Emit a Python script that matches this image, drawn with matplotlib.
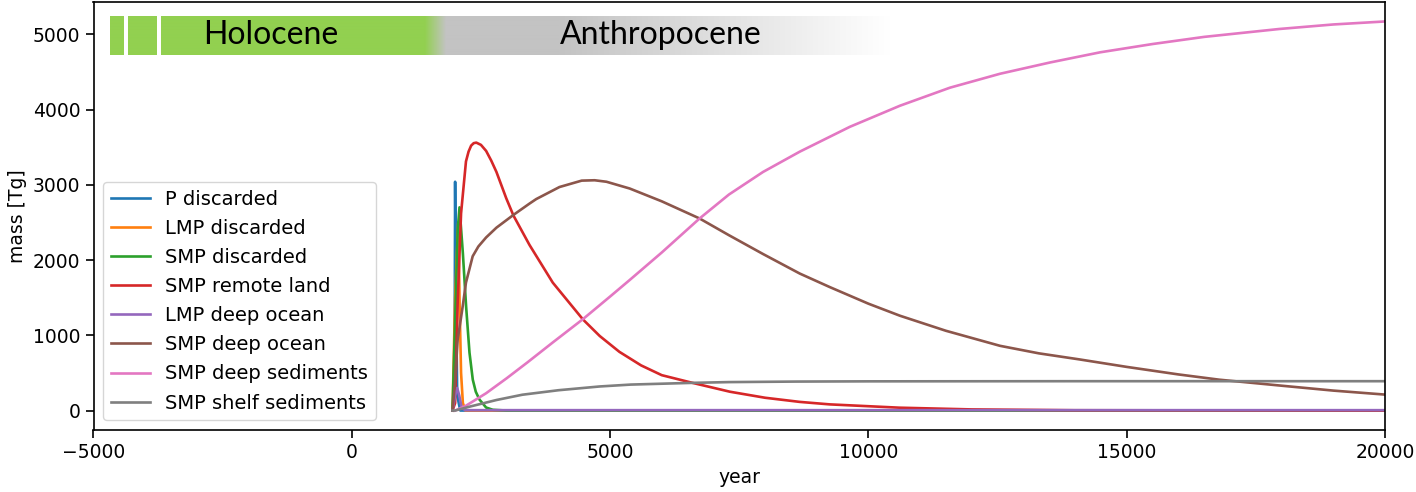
import numpy as np
import matplotlib
matplotlib.use("Agg")
import matplotlib.pyplot as plt

# ─── Data ────────────────────────────────────────────────────
p_disc_x = [1950, 1990, 2000, 2010, 2040, 2100, 20000]
p_disc_y = [0, 500, 3040, 2000, 200, 0, 0]

lmp_disc_x = [1950, 2000, 2060, 2090, 2115, 2150, 2200, 20000]
lmp_disc_y = [0, 1500, 2500, 1300, 500, 100, 0, 0]

smp_disc_x = [1950, 2000, 2050, 2085, 2150, 2213, 2278, 2342, 2400, 2471, 2600, 2730, 3000, 20000]
smp_disc_y = [0, 1200, 2400, 2700, 2090, 1380, 770, 410, 250, 146, 40, 10, 0, 0]

smp_land_x = [1950, 2000, 2050, 2115, 2210, 2260, 2310, 2360, 2410, 2500, 2600, 2700,
              2800, 2990, 3130, 3440, 3890, 4475, 4800, 5180, 5600, 6000, 6600, 7320,
              8000, 8670, 9250, 10600, 12000, 14000, 20000]
smp_land_y = [0, 100, 1450, 2620, 3310, 3440, 3520, 3553, 3560, 3530, 3450, 3320,
              3170, 2820, 2590, 2200, 1700, 1210, 990, 780, 600, 470, 367, 250,
              170, 115, 82, 38, 15, 4, 0]

lmp_ocean_x = [1950, 2000, 2040, 2080, 2130, 2200, 20000]
lmp_ocean_y = [0, 200, 300, 200, 30, 5, 5]

smp_ocean_x = [1950, 2000, 2050, 2085, 2150, 2210, 2340, 2450, 2600, 2800, 3130, 3440,
               3570, 4020, 4450, 4700, 4930, 5380, 6000, 6732, 7300, 7960, 8672, 9254,
               10000, 10610, 11500, 12548, 13300, 14080, 15000, 16000, 16792, 18000,
               19000, 20000]
smp_ocean_y = [0, 400, 950, 1100, 1400, 1700, 2050, 2180, 2300, 2430, 2600, 2750,
               2810, 2970, 3055, 3060, 3040, 2950, 2780, 2552, 2330, 2080, 1820, 1640,
               1420, 1260, 1060, 860, 760, 680, 580, 480, 410, 330,
               265, 212]

smp_dsed_x = [2000, 2200, 2600, 3000, 3400, 3900, 4475, 5000, 5380, 6000, 6732, 7300,
              7960, 8672, 9641, 10610, 11579, 12548, 13517, 14486, 15500, 16500,
              17955, 19000, 20000]
smp_dsed_y = [0, 60, 230, 430, 640, 910, 1215, 1515, 1735, 2100, 2552, 2870,
              3170, 3440, 3770, 4050, 4290, 4475, 4625, 4760, 4870, 4965,
              5070, 5130, 5170]

smp_shelf_x = [1950, 2000, 2300, 2800, 3300, 4000, 4800, 5400, 6600, 7300, 8600, 10000, 14000, 20000]
smp_shelf_y = [0, 0, 55, 140, 210, 270, 320, 345, 368, 378, 385, 388, 390, 390]

labels = ['P discarded', 'LMP discarded', 'SMP discarded', 'SMP remote land',
          'LMP deep ocean', 'SMP deep ocean', 'SMP deep sediments', 'SMP shelf sediments']

series = [(p_disc_x, p_disc_y), (lmp_disc_x, lmp_disc_y), (smp_disc_x, smp_disc_y),
          (smp_land_x, smp_land_y), (lmp_ocean_x, lmp_ocean_y), (smp_ocean_x, smp_ocean_y),
          (smp_dsed_x, smp_dsed_y), (smp_shelf_x, smp_shelf_y)]

FS = 13.5
W, H = 1416, 492

fig = plt.figure(figsize=(W / 100, H / 100), dpi=100)
ax = fig.add_axes([93.5 / W, 1 - 430 / H, (1385 - 93.5) / W, (430 - 2) / H])

for (x, y), lab in zip(series, labels):
    ax.plot(x, y, lw=1.9, label=lab)

ax.set_xlim(-5000, 20000)
ax.set_xticks([-5000, 0, 5000, 10000, 15000, 20000])
ax.set_xlabel('year', fontsize=FS)
ax.set_ylabel('mass [Tg]', fontsize=FS)
ax.tick_params(labelsize=FS, length=6, width=1.2)
for s in ax.spines.values():
    s.set_linewidth(1.2)
ax.legend(loc='lower left', fontsize=14, labelspacing=0.52, handlelength=2.0)

# ─── Holocene / Anthropocene banner ──────────────────────────
bx0, bx1 = 110, 890
cols = np.arange(bx0, bx1) + 0.5
green = np.array([146, 208, 80]) / 255
gray = np.array([195, 195, 195]) / 255
white = np.ones(3)
img = np.zeros((1, len(cols), 3))
for i, px in enumerate(cols):
    if 123.5 < px < 128.3 or 157 < px < 160.6:
        c = white
    elif px < 425:
        c = green
    elif px < 446:
        t = (px - 425) / 21
        c = green * (1 - t) + gray * t
    elif px < 560:
        c = gray
    else:
        t = (px - 560) / (bx1 - 560)
        c = gray * (1 - t) + white * t
    img[0, i] = c

bax = fig.add_axes([bx0 / W, 1 - 55 / H, (bx1 - bx0) / W, 39 / H])
bax.imshow(img, aspect='auto', extent=[bx0, bx1, 0, 1], interpolation='bilinear')
bax.set_xlim(bx0, bx1)
bax.set_ylim(0, 1)
bax.axis('off')
bax.text(271, 0.5, 'Holocene', fontsize=23, family='Lato', ha='center', va='center')
bax.text(661, 0.5, 'Anthropocene', fontsize=23, family='Lato', ha='center', va='center')

fig.savefig('out.png', dpi=100)
